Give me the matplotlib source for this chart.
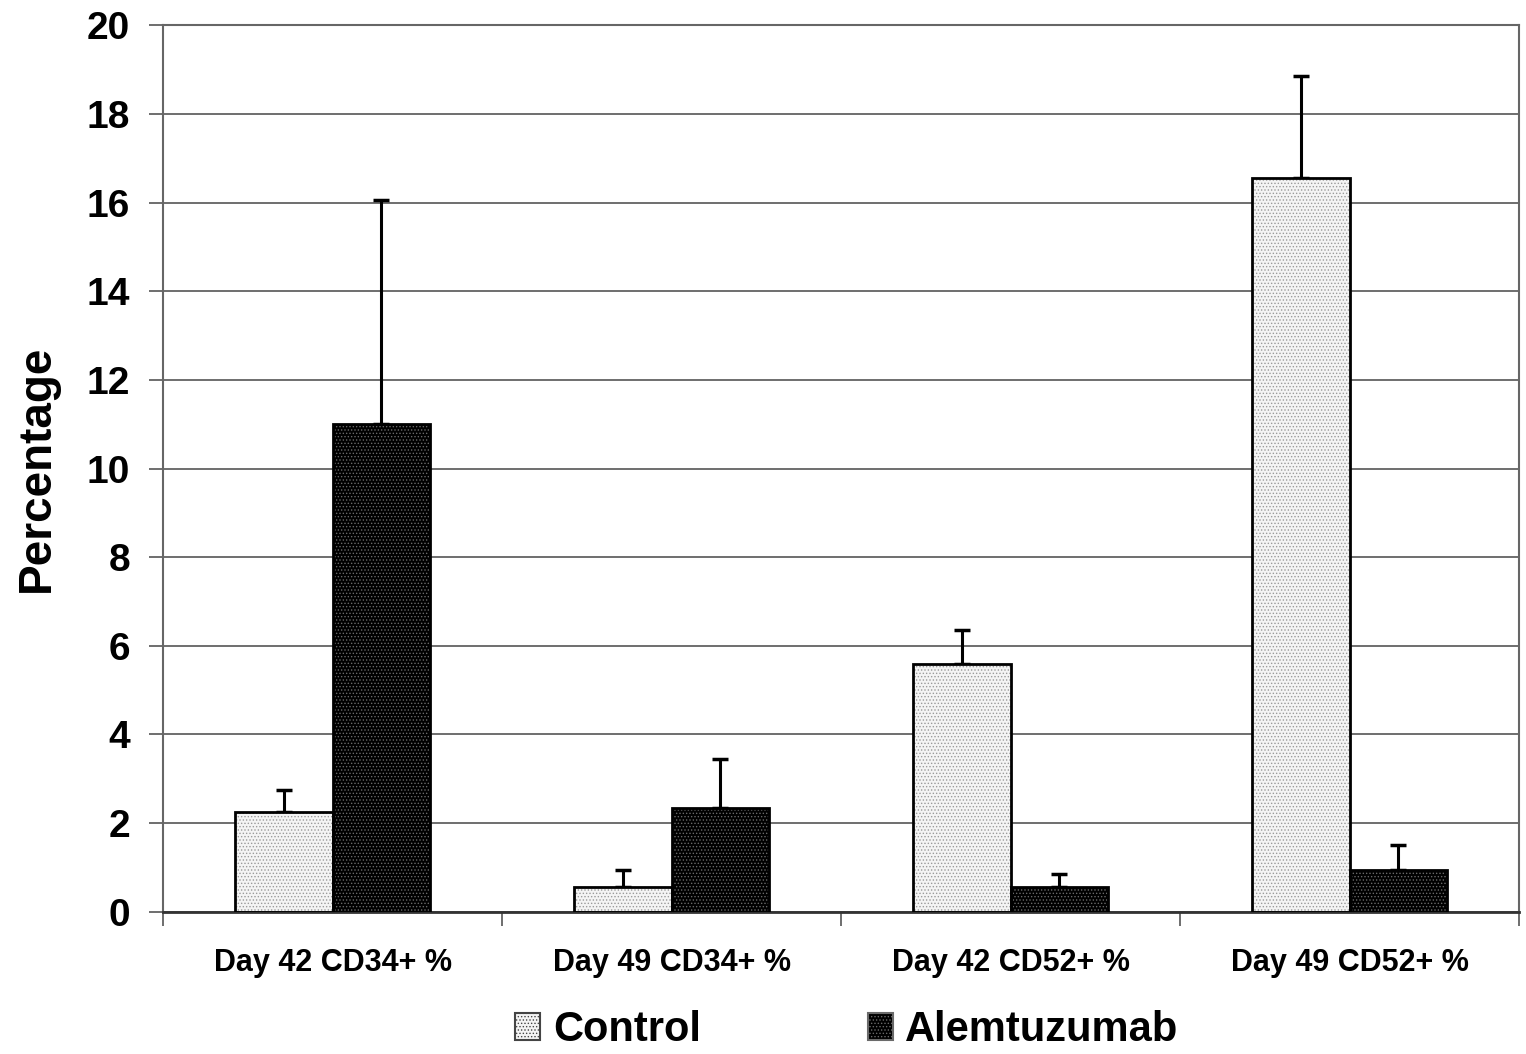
import matplotlib.pyplot as plt
import numpy as np
from matplotlib.patches import Patch

plt.rcParams['font.family'] = ['Liberation Sans', 'DejaVu Sans']
plt.rcParams['font.weight'] = 'bold'
plt.rcParams['hatch.linewidth'] = 0.6

categories = ["Day 42 CD34+ %", "Day 49 CD34+ %", "Day 42 CD52+ %", "Day 49 CD52+ %"]
control = [2.25, 0.55, 5.6, 16.55]
control_err = [0.5, 0.4, 0.75, 2.3]
alem = [11.0, 2.35, 0.55, 0.95]
alem_err = [5.05, 1.1, 0.3, 0.55]

fig = plt.figure(figsize=(15.26, 10.54), dpi=100)
ax = fig.add_axes([0.107, 0.135, 0.8885, 0.841])

x = np.arange(len(categories)) + 0.5
w = 0.287

# bars: hatch drawn with edge colour, outline drawn on top
ax.bar(x - w/2, control, w, color='#f4f4f4', edgecolor='#9a9a9a', linewidth=0, hatch='.....', zorder=2)
ax.bar(x + w/2, alem, w, color='#000000', edgecolor='#6a6a6a', linewidth=0, hatch='.....', zorder=2)
ax.bar(x - w/2, control, w, fill=False, edgecolor='black', linewidth=2, zorder=3)
ax.bar(x + w/2, alem, w, fill=False, edgecolor='black', linewidth=2, zorder=3)

ax.errorbar(x - w/2, control, yerr=[np.zeros(4), control_err], fmt='none', ecolor='black',
            elinewidth=2.2, capsize=6, capthick=2.5, zorder=1)
ax.errorbar(x + w/2, alem, yerr=[np.zeros(4), alem_err], fmt='none', ecolor='black',
            elinewidth=2.2, capsize=6, capthick=2.5, zorder=1)

ax.set_xlim(0, 4)
ax.set_ylim(0, 20)
ax.set_yticks(np.arange(0, 21, 2))
ax.yaxis.grid(True, color='#555555', linewidth=1.2)
ax.set_axisbelow(True)
ax.tick_params(axis='y', labelsize=28, length=10, width=1.2, color='#555555', pad=14)

ax.set_xticks([0, 1, 2, 3, 4])
ax.set_xticklabels([])
ax.set_xticks(x, minor=True)
ax.set_xticklabels(categories, minor=True, fontsize=22)
ax.tick_params(axis='x', which='major', length=10, width=1.2, color='#555555')
ax.tick_params(axis='x', which='minor', length=0, pad=26)

for s in ['left', 'right', 'top']:
    ax.spines[s].set_color('#666666')
    ax.spines[s].set_linewidth(1.5)
ax.spines['bottom'].set_color('#333333')
ax.spines['bottom'].set_linewidth(2)

ax.set_ylabel("Percentage", fontsize=33, fontweight='bold', labelpad=20)

handles = [Patch(facecolor='#f4f4f4', edgecolor='#444444', hatch='.....', linewidth=1.5),
           Patch(facecolor='#000000', edgecolor='#6a6a6a', hatch='.....', linewidth=1.5)]
leg = fig.legend(handles, ["Control", "Alemtuzumab"], loc='lower center', bbox_to_anchor=(0.555, -0.032),
                 ncol=2, frameon=False, fontsize=30, handlelength=0.6, handleheight=0.6,
                 handletextpad=0.3, columnspacing=4.0)

fig.savefig("out.png", dpi=100)
